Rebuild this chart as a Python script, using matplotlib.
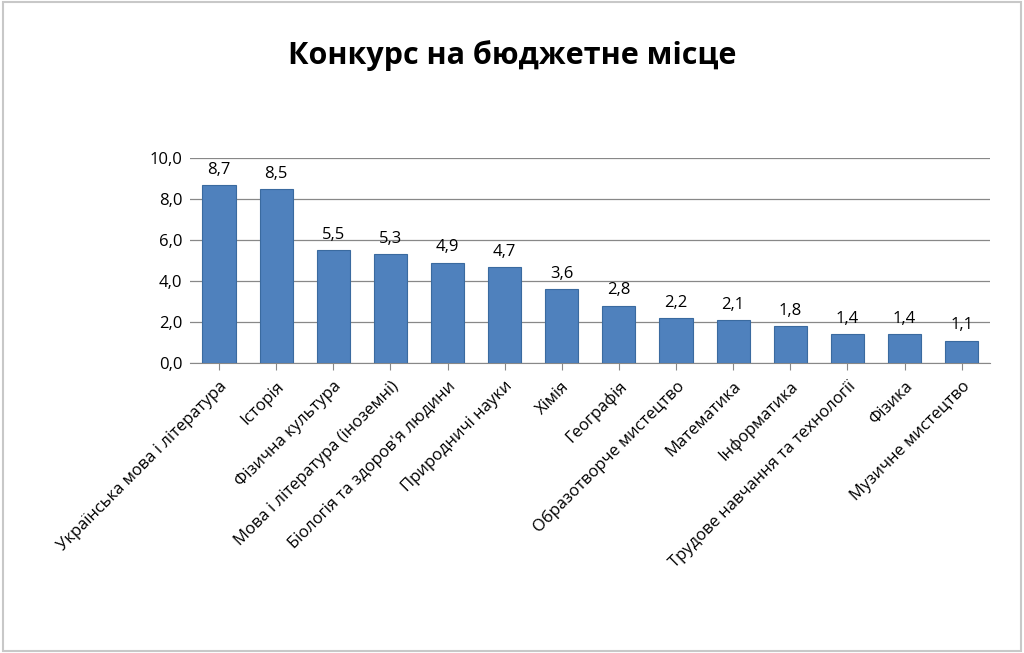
import matplotlib
matplotlib.use("Agg")
import matplotlib.pyplot as plt

categories = ["Українська мова і література", "Історія", "Фізична культура",
              "Мова і література (іноземні)", "Біологія та здоров'я людини",
              "Природничі науки", "Хімія", "Географія", "Образотворче мистецтво",
              "Математика", "Інформатика", "Трудове навчання та технології",
              "Фізика", "Музичне мистецтво"]
values = [8.7, 8.5, 5.5, 5.3, 4.9, 4.7, 3.6, 2.8, 2.2, 2.1, 1.8, 1.4, 1.4, 1.1]
yticks = [0, 2, 4, 6, 8, 10]

plt.rcParams['font.family'] = ['Open Sans', 'DejaVu Sans']
fig = plt.figure(figsize=(10.24, 6.53), dpi=100)
fig.patches.append(plt.Rectangle((0.003, 0.003), 0.994, 0.994, transform=fig.transFigure,
                                 fill=False, edgecolor='#c8c8c8', lw=1.5))
ax = fig.add_axes([0.186, 0.444, 0.781, 0.314])
x = range(len(values))
ax.bar(x, values, width=0.58, color='#4F81BD', edgecolor='#3A6A9F', lw=0.8, zorder=3)
for i, v in zip(x, values):
    ax.text(i, v + 0.35, f"{v:.1f}".replace('.', ','), ha='center', va='bottom', fontsize=12)
ax.set_ylim(0, 10)
ax.set_xlim(-0.5, len(values) - 0.5)
ax.set_yticks(yticks)
ax.set_yticklabels([f"{t:.1f}".replace('.', ',') for t in yticks], fontsize=12)
ax.set_xticks(list(x))
ax.set_xticklabels(categories, rotation=45, ha='right', rotation_mode='anchor', fontsize=12)
ax.grid(axis='y', color='#888888', lw=0.9, zorder=0)
for s in ['top', 'right', 'left']:
    ax.spines[s].set_visible(False)
ax.spines['bottom'].set_color('#888888')
ax.tick_params(axis='both', length=0, pad=6)
ax.tick_params(axis='x', length=5, color='#888888', direction='out')
fig.text(0.5, 0.915, "Конкурс на бюджетне місце", ha='center', va='center',
         fontsize=22, fontweight='bold')
fig.savefig("out.png", dpi=100)
